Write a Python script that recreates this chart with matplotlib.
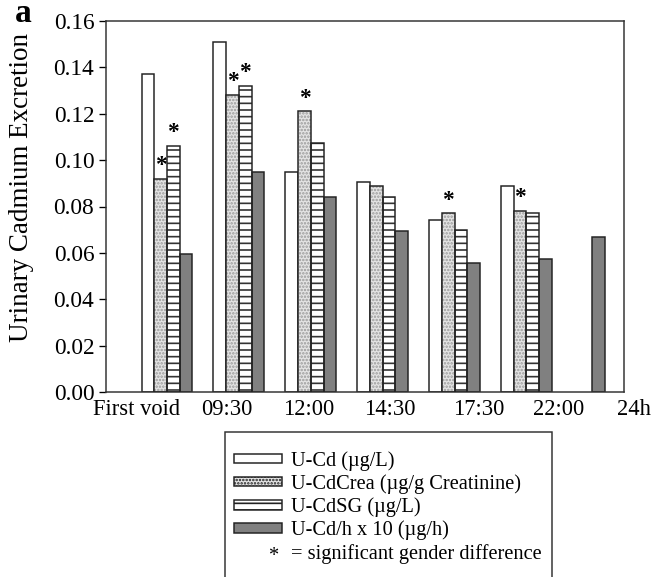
import numpy as np
import matplotlib
matplotlib.use("Agg")
import matplotlib.pyplot as plt
from matplotlib.patches import Rectangle
from matplotlib.legend_handler import HandlerBase
from matplotlib.text import Text

plt.rcParams['font.family'] = ['Liberation Serif', 'DejaVu Serif']
plt.rcParams['hatch.linewidth'] = 1.0

categories = ["First void", "09:30", "12:00", "14:30", "17:30", "22:00", "24h"]
u_cd      = [0.137, 0.151, 0.095, 0.0905, 0.074, 0.089, np.nan]
u_cdcrea  = [0.092, 0.128, 0.121, 0.089, 0.077, 0.078, np.nan]
u_cdsg    = [0.106, 0.132, 0.1075, 0.084, 0.070, 0.077, np.nan]
u_cdh10   = [0.0595, 0.095, 0.084, 0.0695, 0.0555, 0.0575, 0.067]
# significance stars: (series index, group index)
stars = [(1, 0), (2, 0), (1, 1), (2, 1), (1, 2), (1, 4), (1, 5)]
label_pos = [-0.43, 0.83, 1.97, 3.10, 4.33, 5.45, 6.50]
yticks = [0.00, 0.02, 0.04, 0.06, 0.08, 0.10, 0.12, 0.14, 0.16]

W, H, DPI = 653, 577, 120
fig = plt.figure(figsize=(W / DPI, H / DPI), dpi=DPI)
ax = fig.add_axes([106 / W, 1 - 392 / H, (624 - 106) / W, (392 - 21) / H])

x = np.arange(len(categories))
bw = 0.177
series = [u_cd, u_cdcrea, u_cdsg, u_cdh10]
offs = [-1.5, -0.5, 0.5, 1.5]
edge = '#222222'

def xpos(si):
    return x + offs[si] * bw

# white
ax.bar(xpos(0), u_cd, bw, facecolor='white', edgecolor=edge, linewidth=0.9, zorder=2)
# dotted
ax.bar(xpos(1), u_cdcrea, bw, facecolor='#e4e4e4', edgecolor='#9a9a9a', hatch='......',
       linewidth=0, zorder=2)
ax.bar(xpos(1), u_cdcrea, bw, facecolor='none', edgecolor=edge, linewidth=0.9, zorder=3)
# horizontal lines
ax.bar(xpos(2), u_cdsg, bw, facecolor='white', edgecolor='#333333', hatch='---',
       linewidth=0, zorder=2)
ax.bar(xpos(2), u_cdsg, bw, facecolor='none', edgecolor=edge, linewidth=0.9, zorder=3)
# gray (24h only gray, centered)
gx = xpos(3).astype(float)
gx[-1] = x[-1]
ax.bar(gx, u_cdh10, bw, facecolor='#808080', edgecolor=edge, linewidth=0.9, zorder=2)

for si, gi in stars:
    xx = xpos(si)[gi]
    ax.text(xx, series[si][gi] + 0.0012, '*', ha='center', va='bottom', fontsize=14,
            fontweight='bold', zorder=4)

ax.set_xlim(-0.848, 6.356)
ax.set_ylim(0, 0.16)
ax.set_yticks(yticks)
ax.set_yticklabels([f"{v:.2f}" for v in yticks], fontsize=14)
ax.tick_params(axis='y', direction='out', length=4, width=0.8, pad=3)
ax.set_xticks([])
for lp, c in zip(label_pos, categories):
    ax.text(lp, -0.0030, c, transform=ax.transData,
            ha='center', va='top', fontsize=13.5, clip_on=False)
for s in ax.spines.values():
    s.set_linewidth(0.9)
    s.set_color('#333333')

fig.text(22 / W, 1 - 188 / H, "Urinary Cadmium Excretion", rotation=90,
         ha='center', va='center', fontsize=16.2)
fig.text(23 / W, 1 - 14 / H, "a", ha='center', va='center', fontsize=20,
         fontweight='bold')

# legend
class StarHandler(HandlerBase):
    def create_artists(self, legend, orig_handle, xdescent, ydescent, width, height,
                       fontsize, trans):
        t = Text(width * 0.85, height / 2 - 0.3 * height, '*', ha='center', va='center',
                 fontsize=fontsize, transform=trans)
        return [t]

class StarKey:
    pass

h1 = Rectangle((0, 0), 1, 1, facecolor='white', edgecolor=edge, linewidth=0.9)
h2 = Rectangle((0, 0), 1, 1, facecolor='#e4e4e4', edgecolor=edge, hatch='......',
               linewidth=0.9)
h3 = Rectangle((0, 0), 1, 1, facecolor='white', edgecolor=edge, hatch='---', linewidth=0.9)
h4 = Rectangle((0, 0), 1, 1, facecolor='#808080', edgecolor=edge, linewidth=0.9)
sk = StarKey()
leg = fig.legend([h1, h2, h3, h4, sk],
                 ["U-Cd (\u00b5g/L)", "U-CdCrea (\u00b5g/g Creatinine)", "U-CdSG (\u00b5g/L)",
                  "U-Cd/h x 10 (\u00b5g/h)", "= significant gender difference"],
                 handler_map={StarKey: StarHandler()},
                 loc='upper left', bbox_to_anchor=(234 / W, 1 - 451 / H),
                 borderaxespad=0, borderpad=0, fontsize=12.2, frameon=False,
                 handlelength=2.35, handleheight=0.35, handletextpad=0.45,
                 labelspacing=0.17)
fig.patches.append(Rectangle((225 / W, -0.02), (552 - 225) / W, 0.02 + (577 - 432) / H,
                             transform=fig.transFigure, facecolor='none',
                             edgecolor='#333333', linewidth=0.9))

fig.savefig("out.png", dpi=DPI)
